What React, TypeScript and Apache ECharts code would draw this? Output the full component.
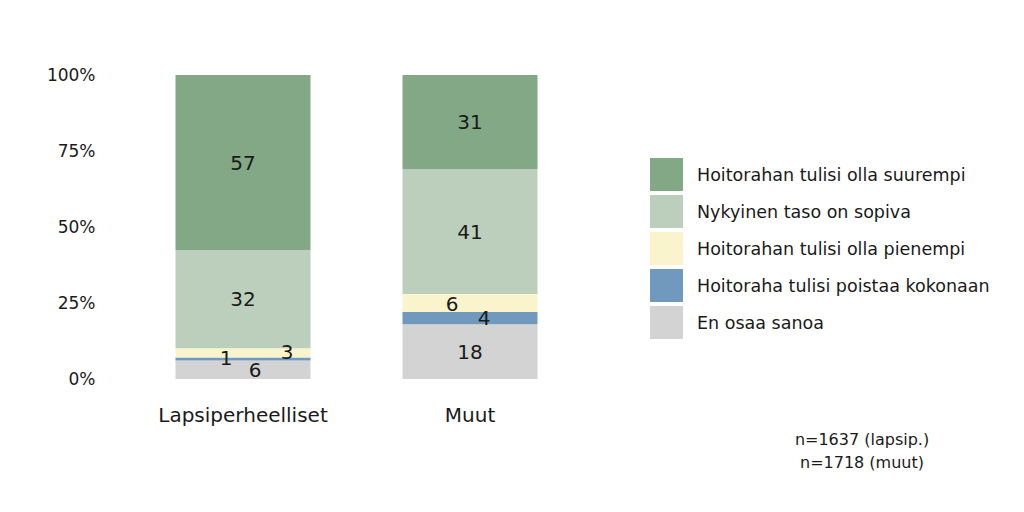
import React, { useEffect, useRef } from "react";
import * as echarts from "echarts";

const categories = ["Lapsiperheelliset", "Muut"];
const seriesNames = [
  "En osaa sanoa",
  "Hoitoraha tulisi poistaa kokonaan",
  "Hoitorahan tulisi olla pienempi",
  "Nykyinen taso on sopiva",
  "Hoitorahan tulisi olla suurempi",
];
const enOsaa = [6, 18];
const poistaa = [1, 4];
const pienempi = [3, 6];
const sopiva = [32, 41];
const suurempi = [57, 31];
const colors = ["#d3d3d3", "#7199bd", "#faf4cc", "#bccfbc", "#82a886"];
const legendOrder = [
  "Hoitorahan tulisi olla suurempi",
  "Nykyinen taso on sopiva",
  "Hoitorahan tulisi olla pienempi",
  "Hoitoraha tulisi poistaa kokonaan",
  "En osaa sanoa",
];
const yTicks = ["0%", "25%", "50%", "75%", "100%"];
const footnote = ["n=1637 (lapsip.)", "n=1718 (muut)"];

// label offsets per series per category [dx, dy]
const labelOffsets: number[][][] = [
  [[12, 0], [0, 0]],
  [[-17, -1], [14, 0]],
  [[44, -1], [-18, 1]],
  [[0, 0], [0, 0]],
  [[0, 0], [0, 0]],
];

const FONT = "DejaVu Sans";

export default function App() {
  const ref = useRef<HTMLDivElement>(null);
  useEffect(() => {
    if (!ref.current) return;
    const chart = echarts.init(ref.current, undefined, { renderer: "svg" });
    const raw = [enOsaa, poistaa, pienempi, sopiva, suurempi];
    const totals = categories.map((_, i) => raw.reduce((s, arr) => s + arr[i], 0));
    const series = raw.map((arr, si) => ({
      name: seriesNames[si],
      type: "bar",
      stack: "total",
      barWidth: 135,
      itemStyle: { color: colors[si] },
      label: {
        show: true,
        position: "inside",
        color: "#1a1a1a",
        fontSize: 20,
        fontFamily: FONT,
      },
      data: arr.map((v, ci) => ({
        value: (v / totals[ci]) * 100,
        label: {
          offset: labelOffsets[si][ci],
          formatter: () => String(v),
        },
      })),
    }));
    chart.setOption({
      animation: false,
      textStyle: { fontFamily: FONT },
      grid: { left: 129.5, right: 440.5, top: 75, bottom: 133, containLabel: false },
      xAxis: {
        type: "category",
        data: categories,
        axisLine: { show: false },
        axisTick: { show: false },
        axisLabel: { color: "#1a1a1a", fontSize: 20, margin: 26, fontFamily: FONT },
      },
      yAxis: {
        type: "value",
        min: 0,
        max: 100,
        interval: 25,
        splitLine: { show: false },
        axisLine: { show: false },
        axisTick: { show: false },
        axisLabel: {
          color: "#1a1a1a",
          fontSize: 17,
          margin: 34,
          fontFamily: FONT,
          formatter: (v: number) => yTicks[Math.round(v / 25)],
        },
      },
      legend: {
        orient: "vertical",
        left: 650,
        top: 158,
        padding: 0,
        itemWidth: 33,
        itemHeight: 33,
        itemGap: 4,
        icon: "rect",
        data: legendOrder,
        textStyle: { color: "#1a1a1a", fontSize: 17.5, fontFamily: FONT, padding: [0, 0, 0, 9] },
      },
      graphic: [
        {
          type: "text",
          x: 862,
          y: 428,
          style: {
            text: footnote.join("\n"),
            fill: "#1a1a1a",
            fontSize: 16,
            fontFamily: FONT,
            align: "center",
            verticalAlign: "top",
            lineHeight: 23,
          },
        },
      ],
      series,
    });
    return () => chart.dispose();
  }, []);
  return (
    <div
      ref={ref}
      style={{ position: "absolute", left: 0, top: 0, width: 1024, height: 512, background: "#fff" }}
    />
  );
}
